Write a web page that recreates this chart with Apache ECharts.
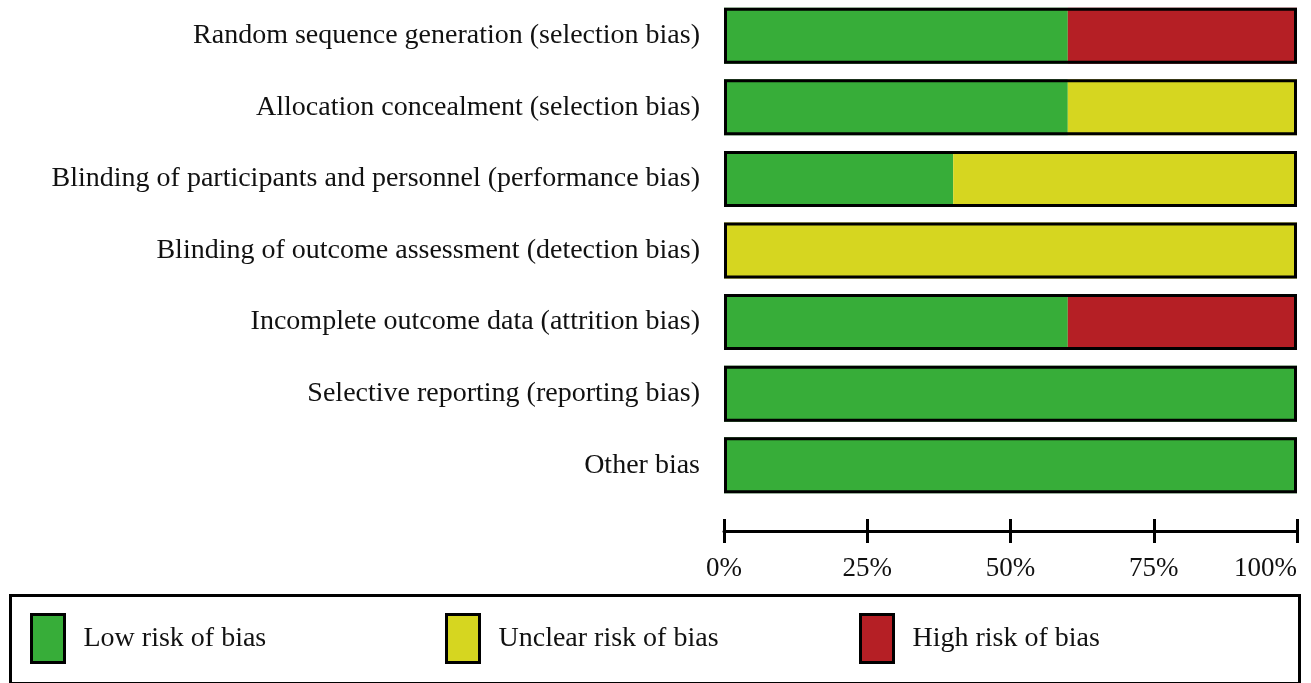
<!DOCTYPE html>
<html>
<head>
<meta charset="utf-8">
<script src="https://cdn.jsdelivr.net/npm/echarts@6/dist/echarts.min.js"></script>
<style>
  html, body { margin: 0; padding: 0; background: #fff; }
  #chart { width: 1311px; height: 683px; }
</style>
</head>
<body>
<div id="chart"></div>
<script>
// risk of bias domains, top to bottom
const domains = [
  'Random sequence generation (selection bias)',
  'Allocation concealment (selection bias)',
  'Blinding of participants and personnel (performance bias)',
  'Blinding of outcome assessment (detection bias)',
  'Incomplete outcome data (attrition bias)',
  'Selective reporting (reporting bias)',
  'Other bias'
]
const lowRisk = [60, 60, 40, 0, 60, 100, 100]
const unclearRisk = [0, 40, 60, 100, 0, 0, 0]
const highRisk = [40, 0, 0, 0, 40, 0, 0]
const totals = [100, 100, 100, 100, 100, 100, 100]
const xTicks = [0, 25, 50, 75, 100]

const font = '"Liberation Serif", "Times New Roman", serif'
const colors = { low: '#37ad39', unclear: '#d6d620', high: '#b51f25' }

const chart = echarts.init(document.getElementById('chart'))

const seg = (name, data, color) => ({
  name, type: 'bar', stack: 'risk', data,
  barWidth: 56, barGap: '-100%',
  itemStyle: { color },
  emphasis: { disabled: true }
})

const legendBase = {
  top: 613, padding: 0, itemWidth: 33, itemHeight: 48, icon: 'rect',
  itemStyle: { borderColor: '#000', borderWidth: 3 },
  textStyle: { fontFamily: font, fontSize: 28, color: '#111', padding: [0, 0, 0, 14] },
  selectedMode: false
}

chart.setOption({
  backgroundColor: '#fff',
  animation: false,
  grid: { left: 724, right: 14, top: 0, height: 501 },
  xAxis: [
    {
      type: 'value', min: 0, max: 100, interval: 25, position: 'bottom', offset: 30,
      axisLine: { show: true, lineStyle: { color: '#000', width: 3 } },
      axisTick: { show: true, length: 12, lineStyle: { color: '#000', width: 3 } },
      axisLabel: {
        margin: 24, fontFamily: font, fontSize: 27, color: '#111',
        alignMaxLabel: 'right',
        formatter: v => xTicks.includes(v) ? v + '%' : ''
      },
      splitLine: { show: false }
    },
    {
      type: 'value', min: 0, max: 100, interval: 25, position: 'bottom', offset: 30,
      axisLine: { show: false },
      axisTick: { show: true, inside: true, length: 12, lineStyle: { color: '#000', width: 3 } },
      axisLabel: { show: false },
      splitLine: { show: false }
    }
  ],
  yAxis: {
    type: 'category', data: domains, inverse: true,
    axisLine: { show: false }, axisTick: { show: false },
    axisLabel: { margin: 24, fontFamily: font, fontSize: 28, color: '#111', padding: [6, 0, 0, 0] }
  },
  legend: [
    Object.assign({ left: 30, data: ['Low risk of bias'] }, legendBase),
    Object.assign({ left: 445, data: ['Unclear risk of bias'] }, legendBase),
    Object.assign({ left: 859, data: ['High risk of bias'] }, legendBase)
  ],
  graphic: [{
    type: 'rect', left: 8, top: 593,
    shape: { width: 1289, height: 88 },
    style: { fill: 'none', stroke: '#000', lineWidth: 3 }
  }],
  series: [
    seg('Low risk of bias', lowRisk, colors.low),
    seg('Unclear risk of bias', unclearRisk, colors.unclear),
    seg('High risk of bias', highRisk, colors.high),
    {
      name: 'outline', type: 'bar', stack: 'outline', data: totals,
      barWidth: 56, barGap: '-100%', silent: true, z: 3,
      itemStyle: { color: 'rgba(0,0,0,0)', borderColor: '#000', borderWidth: 3 },
      emphasis: { disabled: true }
    }
  ]
})
</script>
</body>
</html>
